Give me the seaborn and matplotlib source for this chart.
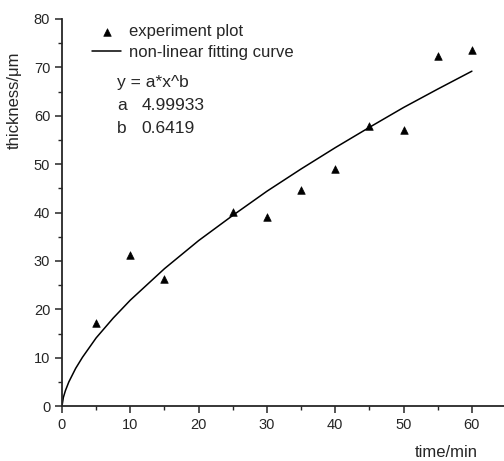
import matplotlib
matplotlib.use("Agg")
import matplotlib.pyplot as plt
import pandas as pd
import seaborn as sns
from matplotlib.ticker import MultipleLocator

# measured thickness
time_min = [5, 10, 15, 25, 30, 35, 40, 45, 50, 55, 60]
thickness_um = [17.1, 31.2, 26.2, 40.1, 39.0, 44.6, 49.0, 57.9, 57.0, 72.4, 73.6]

# fitting curve y = a*x^b
curve_x = [0, 0.2, 0.5, 1, 2, 3, 5, 7.5, 10, 15, 20, 25, 30, 35, 40, 45, 50, 55, 60]
curve_y = [0, 1.8, 3.2, 5.0, 7.8, 10.1, 14.1, 18.2, 21.9, 28.4, 34.2, 39.4, 44.4, 49.0, 53.4, 57.6, 61.7, 65.5, 69.2]

fit_a = "4.99933"
fit_b = "0.6419"

points = pd.DataFrame({"time": time_min, "thickness": thickness_um})
curve = pd.DataFrame({"time": curve_x, "thickness": curve_y})

sns.set_style("ticks")
plt.rcParams["font.family"] = ["Liberation Sans", "DejaVu Sans"]

fig = plt.figure(figsize=(5.04, 4.61), dpi=100)
ax = fig.add_axes([0.123, 0.119, 0.877, 0.84])

sns.scatterplot(data=points, x="time", y="thickness", marker="^", color="black",
                s=30, edgecolor="black", label="experiment plot", ax=ax, zorder=3)
sns.lineplot(data=curve, x="time", y="thickness", color="black", linewidth=1.1,
             label="non-linear fitting curve", ax=ax)

ax.set_xlim(0, 64.7)
ax.set_ylim(0, 80)
ax.xaxis.set_major_locator(MultipleLocator(10))
ax.xaxis.set_minor_locator(MultipleLocator(5))
ax.yaxis.set_major_locator(MultipleLocator(10))
ax.yaxis.set_minor_locator(MultipleLocator(5))
ax.tick_params(which="major", direction="out", length=5, width=1.1, labelsize=10.5)
ax.tick_params(which="minor", direction="out", length=3, width=1.0)
sns.despine(ax=ax)
for sp in ["left", "bottom"]:
    ax.spines[sp].set_linewidth(1.3)

ax.set_xlabel("time/min", fontsize=12)
ax.set_ylabel("thickness/μm", fontsize=12)
ax.xaxis.set_label_coords(0.87, -0.1)
ax.yaxis.set_label_coords(-0.09, 0.79)

ax.legend(loc="upper left", bbox_to_anchor=(0.035, 1.025), frameon=False, fontsize=12,
          handlelength=1.7, handletextpad=0.5, labelspacing=0.35)

ax.text(0.125, 0.835, "y = a*x^b", transform=ax.transAxes, fontsize=12.5, va="center")
ax.text(0.125, 0.777, "a", transform=ax.transAxes, fontsize=12.5, va="center")
ax.text(0.18, 0.777, fit_a, transform=ax.transAxes, fontsize=12.5, va="center")
ax.text(0.125, 0.718, "b", transform=ax.transAxes, fontsize=12.5, va="center")
ax.text(0.18, 0.718, fit_b, transform=ax.transAxes, fontsize=12.5, va="center")

fig.savefig("out.png", dpi=100)
